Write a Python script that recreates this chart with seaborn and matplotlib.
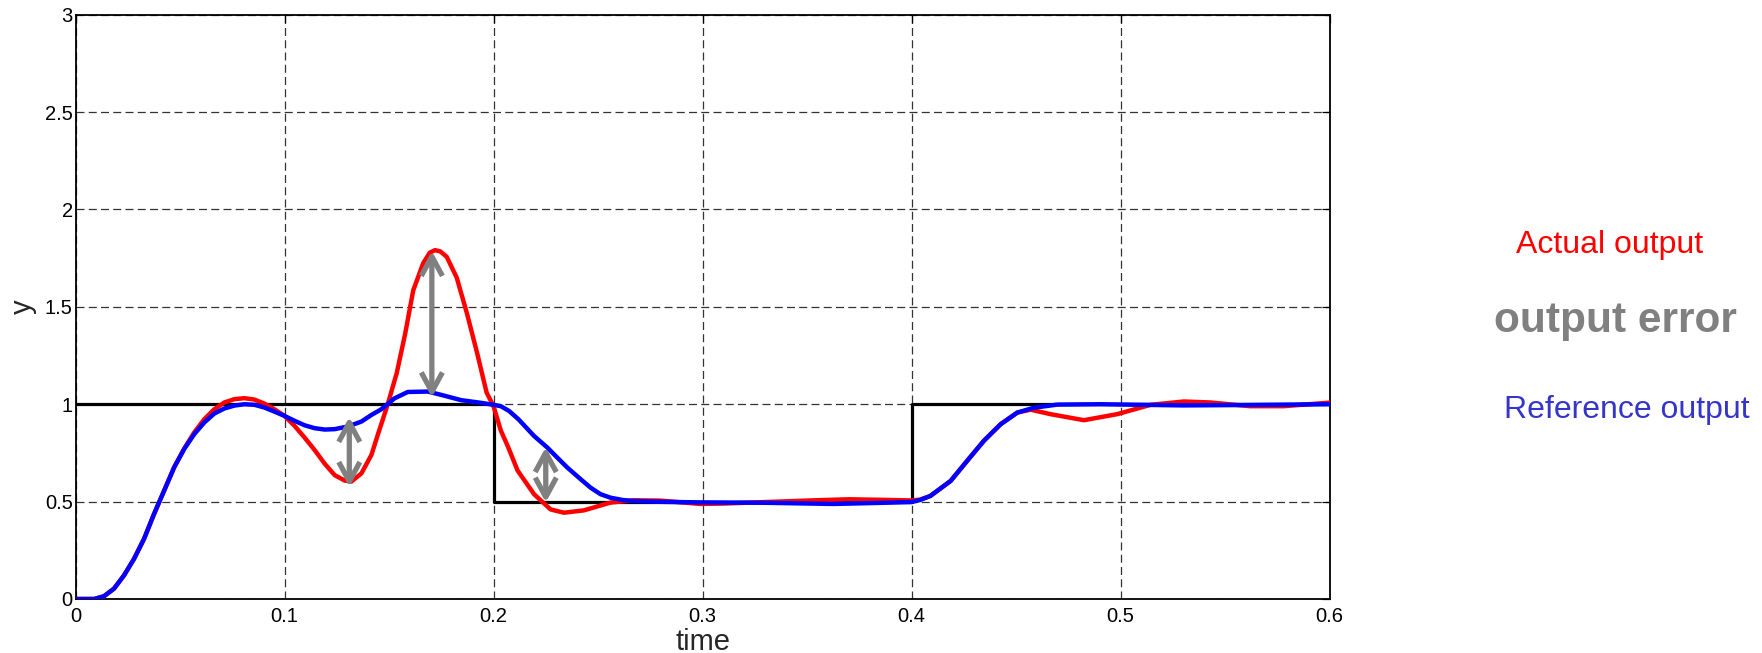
import matplotlib
matplotlib.use("Agg")
import matplotlib.pyplot as plt
import pandas as pd
import seaborn as sns

# Set-point (square-wave command)
setpoint_t = [0.0, 0.2, 0.4, 0.6]
setpoint_y = [1.0, 0.5, 1.0, 1.0]

# Reference model output
reference_t = [0.000, 0.009, 0.0136, 0.0184, 0.0232, 0.028, 0.0328, 0.0376, 0.0424, 0.0472,
               0.052, 0.0568, 0.0616, 0.0664, 0.0712, 0.076, 0.0808, 0.0856, 0.0904, 0.0952,
               0.100, 0.1048, 0.1096, 0.1144, 0.1192, 0.124, 0.1304, 0.1368, 0.1416, 0.1463,
               0.1526, 0.159, 0.1686, 0.175, 0.1845, 0.1941, 0.200, 0.2035, 0.2075, 0.212,
               0.2194, 0.2258, 0.2305, 0.2353, 0.2417, 0.2464, 0.2512, 0.256, 0.262, 0.267,
               0.280, 0.299, 0.330, 0.3625, 0.3708, 0.3868, 0.400, 0.404, 0.409, 0.4187,
               0.4266, 0.4346, 0.4426, 0.4506, 0.4585, 0.4697, 0.4904, 0.530, 0.560, 0.600]
reference_y = [0.000, 0.000, 0.014, 0.053, 0.121, 0.206, 0.309, 0.437, 0.556, 0.676,
               0.770, 0.846, 0.906, 0.952, 0.978, 0.993, 1.000, 0.997, 0.983, 0.962,
               0.940, 0.915, 0.892, 0.877, 0.870, 0.872, 0.886, 0.911, 0.945, 0.974,
               1.030, 1.063, 1.065, 1.048, 1.021, 1.007, 0.997, 0.990, 0.965, 0.922,
               0.837, 0.777, 0.726, 0.675, 0.615, 0.572, 0.538, 0.520, 0.508, 0.503,
               0.499, 0.496, 0.494, 0.488, 0.490, 0.494, 0.498, 0.508, 0.529, 0.606,
               0.709, 0.812, 0.897, 0.957, 0.982, 0.998, 1.000, 0.994, 0.996, 1.000]

# Actual plant output
actual_t = [0.000, 0.009, 0.0136, 0.0184, 0.0232, 0.028, 0.0328, 0.0376, 0.0424, 0.0472,
            0.052, 0.0568, 0.0616, 0.0664, 0.0712, 0.076, 0.0808, 0.0856, 0.0904, 0.0952,
            0.100, 0.1048, 0.1096, 0.1144, 0.1192, 0.124, 0.1288, 0.132, 0.1368, 0.1416,
            0.1447, 0.1494, 0.1537, 0.1577, 0.1616, 0.1664, 0.1695, 0.172, 0.1745, 0.1776,
            0.1824, 0.1872, 0.192, 0.1967, 0.200, 0.2035, 0.207, 0.2115, 0.2194, 0.2273,
            0.2337, 0.2432, 0.256, 0.267, 0.280, 0.299, 0.310, 0.3227, 0.3545, 0.370,
            0.3868, 0.400, 0.404, 0.409, 0.4187, 0.4266, 0.4346, 0.4426, 0.4506, 0.457,
            0.4665, 0.4825, 0.4984, 0.5144, 0.5303, 0.543, 0.562, 0.578, 0.600]
actual_y = [0.000, 0.000, 0.014, 0.053, 0.121, 0.206, 0.309, 0.437, 0.556, 0.676,
            0.772, 0.855, 0.923, 0.974, 1.009, 1.026, 1.031, 1.024, 1.003, 0.974,
            0.940, 0.889, 0.829, 0.765, 0.695, 0.636, 0.608, 0.603, 0.645, 0.740,
            0.845, 1.000, 1.160, 1.360, 1.585, 1.725, 1.778, 1.791, 1.785, 1.757,
            1.650, 1.470, 1.270, 1.060, 0.990, 0.865, 0.780, 0.660, 0.538, 0.460,
            0.443, 0.455, 0.495, 0.507, 0.505, 0.488, 0.490, 0.495, 0.507, 0.512,
            0.509, 0.506, 0.510, 0.529, 0.606, 0.709, 0.812, 0.897, 0.957, 0.972,
            0.949, 0.918, 0.949, 0.997, 1.014, 1.009, 0.990, 0.990, 1.008]

# Output-error markers (time, lower end, upper end)
error_t = [0.131, 0.1705, 0.225]
error_low = [0.575, 1.035, 0.495]
error_high = [0.935, 1.787, 0.780]

x_ticks = [0.0, 0.1, 0.2, 0.3, 0.4, 0.5, 0.6]
x_tick_labels = ["0", "0.1", "0.2", "0.3", "0.4", "0.5", "0.6"]
y_ticks = [0.0, 0.5, 1.0, 1.5, 2.0, 2.5, 3.0]
y_tick_labels = ["0", "0.5", "1", "1.5", "2", "2.5", "3"]

sns.set_style("white")
plt.rcParams["font.family"] = ["Liberation Sans", "DejaVu Sans"]

fig = plt.figure(figsize=(17.62, 6.53), dpi=100)
ax = fig.add_axes([0.04285, 0.0827, 0.7117, 0.8948])

setpoint = pd.DataFrame({"time": setpoint_t, "y": setpoint_y})
reference = pd.DataFrame({"time": reference_t, "y": reference_y})
actual = pd.DataFrame({"time": actual_t, "y": actual_y})

sns.lineplot(data=setpoint, x="time", y="y", ax=ax, color="black", linewidth=2.3,
             drawstyle="steps-post", estimator=None, zorder=3)
sns.lineplot(data=actual, x="time", y="y", ax=ax, color="#ff0000", linewidth=3.2,
             estimator=None, zorder=4)
sns.lineplot(data=reference, x="time", y="y", ax=ax, color="#0000ff", linewidth=3.2,
             estimator=None, zorder=5)

# Double-headed arrows marking the output error
for t, lo, hi in zip(error_t, error_low, error_high):
    ax.annotate("", xy=(t, hi), xytext=(t, lo),
                arrowprops=dict(arrowstyle="<->,head_length=0.7,head_width=0.38",
                                color="#808080", lw=3.8, mutation_scale=20,
                                shrinkA=0, shrinkB=0, capstyle="butt"),
                zorder=6)

ax.set_xlim(0, 0.6)
ax.set_ylim(0, 3)
ax.set_xticks(x_ticks)
ax.set_xticklabels(x_tick_labels)
ax.set_yticks(y_ticks)
ax.set_yticklabels(y_tick_labels)
ax.tick_params(direction="in", length=6, width=0.9, top=True, right=True,
               labelsize=14.5, colors="black")
ax.tick_params(axis="x", pad=6)
ax.tick_params(axis="y", pad=2)

ax.set_axisbelow(True)
ax.grid(True, color="#333333", linestyle=(0, (6.4, 3.4)), linewidth=0.9)
for spine in ax.spines.values():
    spine.set_color("black")
    spine.set_linewidth(1.3)

ax.set_xlabel("time", fontsize=21)
ax.xaxis.set_label_coords(0.5, -0.05)
ax.set_ylabel("y", fontsize=21, va="center")
ax.yaxis.set_label_coords(-0.042, 0.5)

fig.text(0.9135, 0.6121, "Actual output", color="#ff0000", fontsize=23,
         ha="center", va="baseline")
fig.text(0.9168, 0.492, "output error", color="#808080", fontsize=30.5,
         fontweight="bold", ha="center", va="baseline")
fig.text(0.9231, 0.3594, "Reference output", color="#3535c8", fontsize=23,
         ha="center", va="baseline")

fig.savefig("out.png", dpi=100, facecolor="white")
